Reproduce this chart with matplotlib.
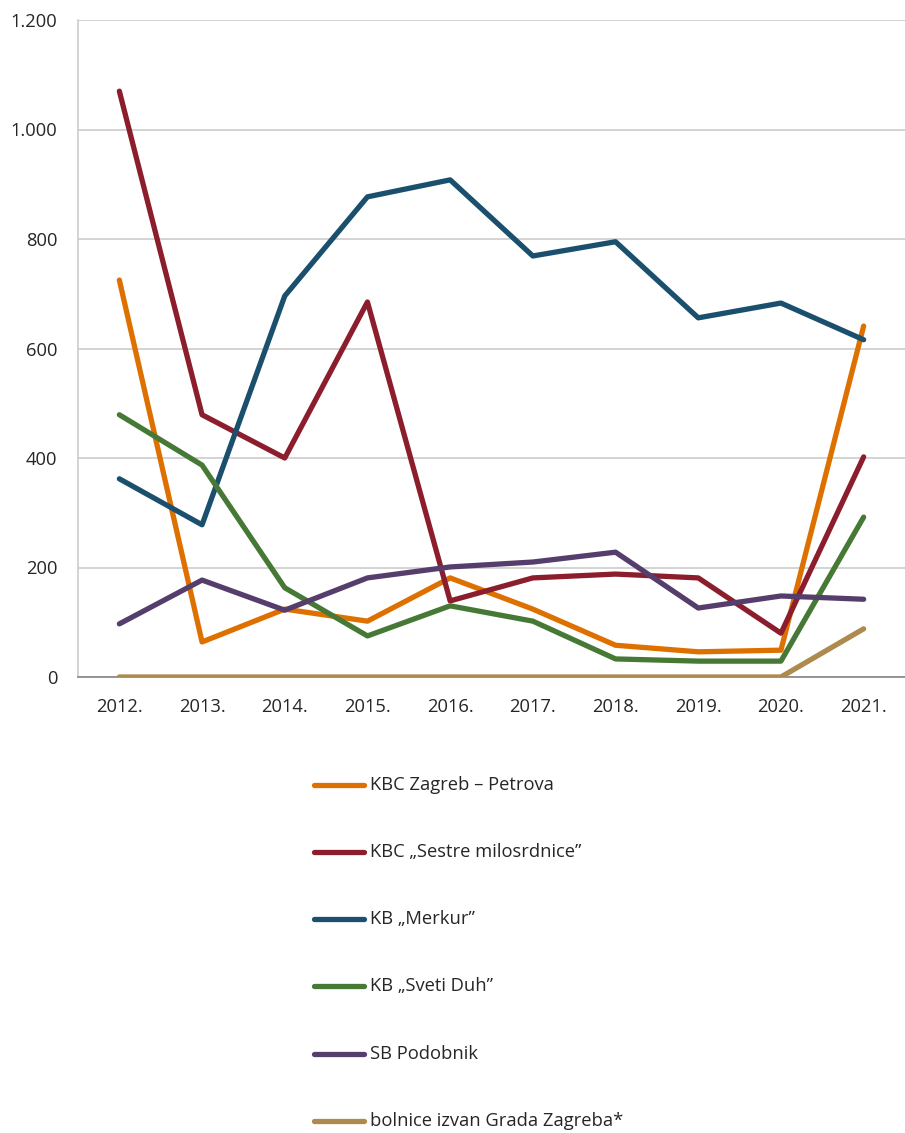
import matplotlib
matplotlib.use("Agg")
import matplotlib.pyplot as plt
from matplotlib.lines import Line2D
from matplotlib.ticker import FuncFormatter

years = ["2012.", "2013.", "2014.", "2015.", "2016.", "2017.", "2018.", "2019.", "2020.", "2021."]
labels = ["KBC Zagreb – Petrova", "KBC „Sestre milosrdnice”", "KB „Merkur”",
          "KB „Sveti Duh”", "SB Podobnik", "bolnice izvan Grada Zagreba*"]
petrova = [725, 64, 124, 102, 181, 124, 58, 46, 49, 641]
milosrdnice = [1070, 479, 400, 685, 139, 181, 188, 181, 80, 402]
merkur = [362, 278, 696, 877, 908, 769, 795, 656, 683, 616]
sveti_duh = [479, 387, 163, 75, 130, 102, 33, 29, 29, 292]
podobnik = [97, 177, 122, 181, 201, 210, 228, 126, 148, 142]
izvan = [0, 0, 0, 0, 0, 0, 0, 0, 0, 88]
series = [petrova, milosrdnice, merkur, sveti_duh, podobnik, izvan]
colors = ["#DE7000", "#8C1D2C", "#1B4F6E", "#457935", "#553E6C", "#AD8A4D"]

plt.rcParams['font.family'] = ['Open Sans', 'DejaVu Sans']
W, H = 905, 1133
fig = plt.figure(figsize=(W / 100, H / 100), dpi=100)
ax = fig.add_axes([78 / W, 1 - 677 / H, (W - 78) / W, (677 - 20) / H])

x = list(range(len(years)))
for s, c in zip(series, colors):
    ax.plot(x, s, color=c, lw=3.8, solid_capstyle='round', solid_joinstyle='round', zorder=3)

ax.set_xlim(-0.5, len(years) - 0.5)
ax.set_ylim(0, 1200)
ax.set_yticks(range(0, 1201, 200))
ax.yaxis.set_major_formatter(FuncFormatter(lambda v, p: f"{int(v):,}".replace(",", ".")))
ax.set_xticks(x)
ax.set_xticklabels(years)
ax.grid(axis='y', color='#C8C8C8', lw=1.1)
ax.set_axisbelow(True)
for side in ['top', 'right']:
    ax.spines[side].set_visible(False)
ax.spines['left'].set_color('#C8C8C8')
ax.spines['left'].set_linewidth(1.1)
ax.spines['bottom'].set_color('#8C8C8C')
ax.spines['bottom'].set_linewidth(1.3)
ax.tick_params(axis='both', length=0, labelsize=13.2, colors='#262626')
ax.tick_params(axis='y', pad=15)
ax.tick_params(axis='x', pad=15)

ys = [785, 852, 919, 986, 1054, 1121]
for lab, c, yy in zip(labels, colors, ys):
    fy = 1 - yy / H
    fig.add_artist(Line2D([314 / W, 364 / W], [fy, fy], color=c, lw=3.8,
                          solid_capstyle='round', transform=fig.transFigure))
    fig.text(370 / W, fy, lab, fontsize=13.2, color='#262626', va='center', ha='left')

fig.savefig("out.png", dpi=100)
